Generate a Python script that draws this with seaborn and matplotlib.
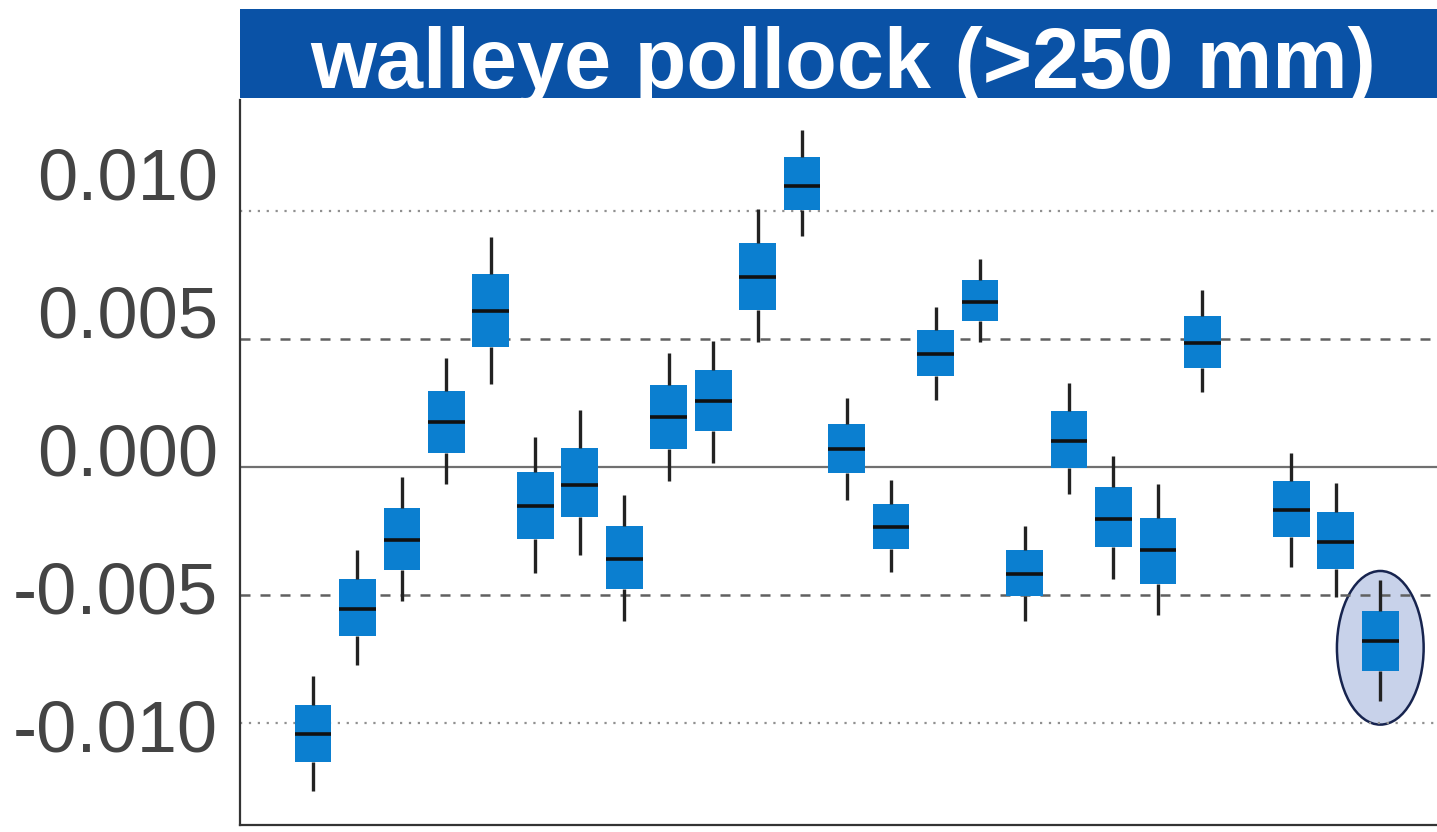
import matplotlib
matplotlib.use("Agg")
import matplotlib.pyplot as plt
from matplotlib.patches import Rectangle, Ellipse
import numpy as np
import pandas as pd
import seaborn as sns

# survey years (no survey in 2020)
anni = [1999, 2000, 2001, 2002, 2003, 2004, 2005, 2006, 2007, 2008, 2009, 2010,
        2011, 2012, 2013, 2014, 2015, 2016, 2017, 2018, 2019, 2021, 2022, 2023]

# boxplot summaries: whisker low, q1, median, q3, whisker high
basso = [-0.01239, -0.00781, -0.00551, -0.00125, 0.00238, -0.00448, -0.00382, -0.00622,
         -0.00114, -0.00048, 0.00391, 0.00773, -0.00182, -0.00445, 0.00181, 0.00391,
         -0.00622, -0.00161, -0.00469, -0.00600, 0.00210, -0.00425, -0.00536, -0.00914]
q1 = [-0.01135, -0.00677, -0.00437, -0.00011, 0.00372, -0.00324, -0.00245, -0.00505,
      0.00001, 0.00068, 0.00505, 0.00868, -0.00085, -0.00361, 0.00268, 0.00467,
      -0.00532, -0.00066, -0.00354, -0.00488, 0.00296, -0.00318, -0.00434, -0.00804]
mediana = [-0.01034, -0.00579, -0.00330, 0.00099, 0.00502, -0.00205, -0.00130, -0.00398,
           0.00118, 0.00175, 0.00625, 0.00956, 0.00001, -0.00283, 0.00347, 0.00536,
           -0.00453, 0.00031, -0.00253, -0.00366, 0.00386, -0.00220, -0.00335, -0.00694]
q3 = [-0.00926, -0.00469, -0.00213, 0.00214, 0.00636, -0.00082, 0.00005, -0.00279,
      0.00233, 0.00290, 0.00749, 0.01062, 0.00091, -0.00196, 0.00434, 0.00615,
      -0.00366, 0.00139, -0.00137, -0.00248, 0.00483, -0.00116, -0.00228, -0.00587]
alto = [-0.00821, -0.00366, -0.00098, 0.00331, 0.00770, 0.00044, 0.00142, -0.00164,
        0.00349, 0.00394, 0.00872, 0.01161, 0.00186, -0.00111, 0.00517, 0.00691,
        -0.00279, 0.00241, -0.00022, -0.00126, 0.00580, -0.00011, -0.00121, -0.00475]

# long-term mean and standard deviation (reference lines)
media = -0.00064
dev_std = 0.00465

titolo = "walleye pollock (>250 mm)"
yticks = [-0.010, -0.005, 0.000, 0.005, 0.010]
ytick_labels = ["-0.010", "-0.005", "0.000", "0.005", "0.010"]

colore_box = "#0b7fd0"
colore_strip = "#0a52a6"

# five points per year -> quartiles and whiskers come out exactly as read
righe = []
for i, anno in enumerate(anni):
    for v in (basso[i], q1[i], mediana[i], q3[i], alto[i]):
        righe.append({"anno": anno, "valore": v})
df = pd.DataFrame(righe)

sns.set_style("white")
plt.rcParams["font.family"] = ["Liberation Sans", "DejaVu Sans"]
plt.rcParams["axes.unicode_minus"] = False

fig = plt.figure(figsize=(14.37, 8.32), dpi=100)
ax = fig.add_axes([240 / 1437, 7 / 832, 1207 / 1437, 725 / 832])

sns.boxplot(data=df, x="anno", y="valore", native_scale=True, whis=(0, 100),
            width=0.825, color=colore_box, saturation=1, showcaps=False,
            showfliers=False, linecolor="#1a1a1a", linewidth=2.4,
            boxprops={"edgecolor": colore_box, "linewidth": 0},
            medianprops={"color": "#111111", "linewidth": 2.6},
            whiskerprops={"color": "#222222", "linewidth": 2.4},
            ax=ax)

# mean, +-1 sd dashed, +-2 sd dotted
ax.axhline(media, color="#707070", linewidth=1.6, zorder=0.5)
for k in (-1, 1):
    ax.axhline(media + k * dev_std, color="#606060", linewidth=1.8,
               dashes=(4, 4), zorder=0.5)
    ax.axhline(media + 2 * k * dev_std, color="#909090", linewidth=1.6,
               dashes=(1, 3), zorder=0.5)

# highlight the last year
centro_y = (basso[-1] + alto[-1]) / 2 - 0.00025
altezza = (alto[-1] - basso[-1]) * 1.27
ax.add_patch(Ellipse((anni[-1], centro_y), 1.95, altezza, facecolor="#c8d2ea",
                     edgecolor="#17244f", linewidth=1.8, zorder=0.3))

ax.set_xlim(1997.36, 2024.5)
ax.set_ylim(-0.013625, 0.012682)
ax.set_yticks(yticks)
ax.set_yticklabels(ytick_labels)
ax.set_xticks([])
ax.set_xlabel("")
ax.set_ylabel("")
ax.tick_params(axis="y", labelsize=52, labelcolor="#444444", length=6,
               width=1.5, color="#333333", pad=10)

for lato in ("top", "right"):
    ax.spines[lato].set_visible(False)
for lato in ("left", "bottom"):
    ax.spines[lato].set_color("#333333")
    ax.spines[lato].set_linewidth(1.6)

# facet strip above the panel
ax.add_patch(Rectangle((0, 1 + 2 / 725), 1, 89 / 725, transform=ax.transAxes,
                       facecolor=colore_strip, edgecolor="none", clip_on=False))
ax.text(0.5, 1 + 12 / 725, titolo, transform=ax.transAxes, ha="center",
        va="baseline", fontsize=61, fontweight="bold", color="white", clip_on=False)

fig.savefig("out.png", dpi=100)
